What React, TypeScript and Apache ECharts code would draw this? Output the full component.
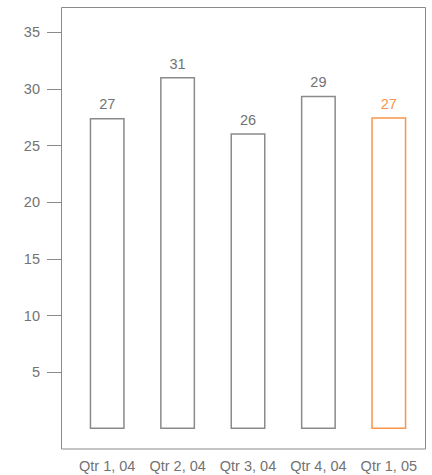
import React, { useEffect, useRef } from "react";
import * as echarts from "echarts";

const categories = ["Qtr 1, 04", "Qtr 2, 04", "Qtr 3, 04", "Qtr 4, 04", "Qtr 1, 05"];
const values = [27.45, 31.05, 26.1, 29.4, 27.5];
const valueLabels = ["27", "31", "26", "29", "27"];
const tickValues = [5, 10, 15, 20, 25, 30, 35];

const GRAY = "#8a8a8a";
const TEXT = "#737373";
const ORANGE = "#F7964A";
const FONT = "Liberation Sans, Arial, sans-serif";

export default function App() {
  const ref = useRef<HTMLDivElement>(null);
  useEffect(() => {
    if (!ref.current) return;
    const chart = echarts.init(ref.current, null, { renderer: "svg" });
    const last = categories.length - 1;
    chart.setOption({
      animation: false,
      backgroundColor: "#ffffff",
      grid: { left: 72, right: 8, top: 8, bottom: 26, containLabel: false },
      graphic: [
        {
          type: "rect",
          shape: { x: 61.5, y: 7.5, width: 364, height: 441.5 },
          style: { fill: "none", stroke: GRAY, lineWidth: 1 },
          silent: true,
          z: 0,
        },
      ],
      xAxis: {
        type: "category",
        data: categories,
        axisLine: { show: false },
        axisTick: { show: false },
        axisLabel: { color: TEXT, fontSize: 14.5, fontFamily: FONT, margin: 9, interval: 0 },
      },
      yAxis: {
        type: "value",
        min: -1.77,
        max: 37.15,
        offset: 11,
        splitLine: { show: false },
        axisLine: { show: false },
        axisTick: {
          show: true,
          length: 14,
          lineStyle: { color: GRAY, width: 1 },
          customValues: tickValues,
        },
        axisLabel: {
          color: TEXT,
          fontSize: 14.5,
          fontFamily: FONT,
          margin: 21,
          customValues: tickValues,
        },
      },
      series: [
        {
          type: "bar",
          barWidth: 35,
          data: values.map((v, i) => ({
            value: v,
            itemStyle: {
              color: "rgba(255,255,255,0)",
              borderColor: i === last ? ORANGE : GRAY,
              borderWidth: 1.5,
            },
            label: {
              show: true,
              position: "top",
              distance: 6,
              formatter: () => valueLabels[i],
              color: i === last ? ORANGE : TEXT,
              fontSize: 14.5,
              fontFamily: FONT,
            },
          })),
        },
      ],
    });
    return () => chart.dispose();
  }, []);
  return <div ref={ref} style={{ width: 432, height: 475, position: "absolute", left: 0, top: 0 }} />;
}
